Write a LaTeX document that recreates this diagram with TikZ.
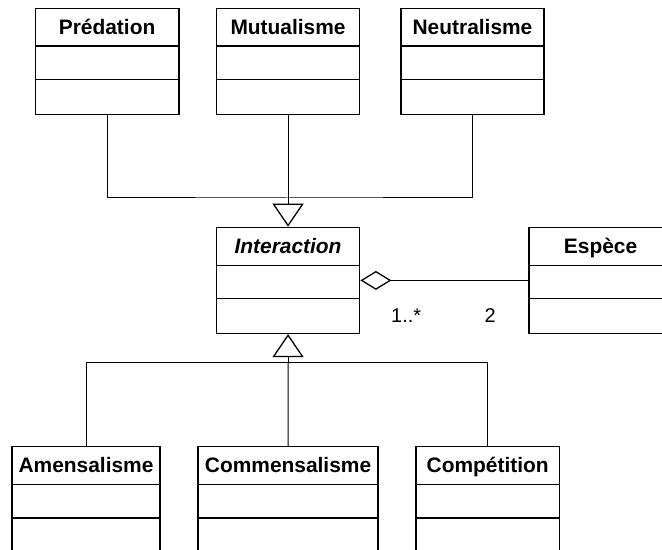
\documentclass[tikz,border=0pt]{standalone}
\usepackage{fontspec}
\setmainfont{Liberation Sans}
\usetikzlibrary{arrows.meta,calc}

\begin{document}
\begin{tikzpicture}[x=1bp,y=-1bp,
  classbox/.style={draw, line width=1.4bp, rectangle, inner sep=0pt,
    minimum height=106bp, anchor=north west},
  classname/.style={anchor=base, inner sep=0pt,
    font=\fontsize{21}{25}\selectfont\bfseries},
  mult/.style={anchor=base west, inner sep=0pt,
    font=\fontsize{20}{24}\selectfont},
  link/.style={line width=1bp},
  generalization/.style={link, -{Triangle[open, length=23bp, width=31bp, line width=1.3bp]}},
  aggregation/.style={link, {Diamond[open, length=31bp, width=19bp, line width=1.3bp]}-}
]
\useasboundingbox (0,0) rectangle (662,550);
\clip (0,0) rectangle (662,550);

% class box: name, left, top, width, title
\newcommand\umlclass[5]{%
  \node[classbox, minimum width=#4bp] (#1) at (#2,#3) {};
  \draw[line width=1.4bp] ($(#1.north west)+(0,38.5)$) -- ($(#1.north east)+(0,38.5)$);
  \draw[line width=1.4bp] ($(#1.north west)+(0,72)$) -- ($(#1.north east)+(0,72)$);
  \node[classname] at ($(#1.north)+(0,26.6)$) {#5};
}

% upper row
\umlclass{pred}{34.5}{7.7}{143.8}{Prédation}
\umlclass{mutu}{215.7}{7.7}{143.3}{Mutualisme}
\umlclass{neut}{400.3}{7.7}{143}{Neutralisme}

% middle row
\umlclass{inter}{215.7}{226.7}{143.3}{\itshape Interaction}
\umlclass{esp}{528.3}{226.7}{143.2}{Espèce}

% lower row
\umlclass{amen}{11.3}{446}{148}{Amensalisme}
\umlclass{comm}{197.35}{446}{180}{Commensalisme}
\umlclass{comp}{415.3}{446}{143.4}{Compétition}

% junction points of the inheritance trees
\coordinate (jtop) at ($(inter.north)+(0,-28.7)$);
\coordinate (jbot) at ($(inter.south)+(0,28.3)$);

% specialisations above Interaction
\draw[link] (pred.south) |- (jtop) -| (neut.south);
\draw[link] (mutu.south) -- (jtop);
\draw[generalization] (jtop) -- (inter.north);

% specialisations below Interaction
\draw[link] (amen.north) |- (jbot) -| (comp.north);
\draw[link] (comm.north) -- (jbot);
\draw[generalization] (jbot) -- (inter.south);

% aggregation with Espèce
\draw[aggregation] (inter.east) -- (esp.west);
\node[mult] at (391,322.7) {1..*};
\node[mult] at (484.5,322.7) {2};
\end{tikzpicture}
\end{document}
